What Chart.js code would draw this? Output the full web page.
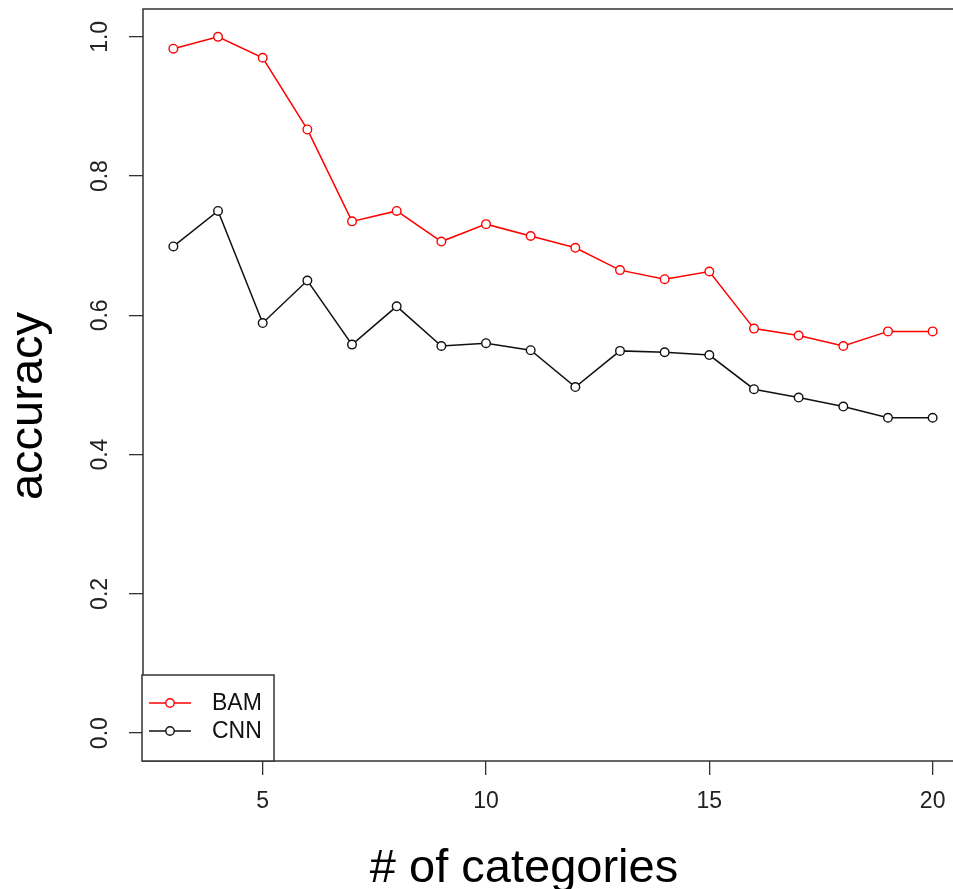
<!DOCTYPE html>
<html lang="en">
<head>
    <meta charset="UTF-8">
    <title>accuracy vs # of categories</title>
    <script src="https://cdn.jsdelivr.net/npm/chart.js"></script>
    <style>
        html, body { margin: 0; padding: 0; background: #fff; overflow: hidden; }
        #wrap { width: 980px; height: 889px; }
    </style>
</head>
<body>
    <div id="wrap">
        <canvas id="accChart" width="980" height="889"></canvas>
    </div>

    <script>
        // data
        var categories = [3, 4, 5, 6, 7, 8, 9, 10, 11, 12, 13, 14, 15, 16, 17, 18, 19, 20];
        var bamValues = [0.983, 1.0, 0.970, 0.867, 0.735, 0.750, 0.706, 0.731, 0.714, 0.697,
                         0.665, 0.652, 0.663, 0.581, 0.571, 0.556, 0.577, 0.577];
        var cnnValues = [0.699, 0.750, 0.589, 0.650, 0.558, 0.613, 0.556, 0.560, 0.550, 0.497,
                         0.549, 0.547, 0.543, 0.494, 0.482, 0.469, 0.453, 0.453];
        var xTicks = [5, 10, 15, 20];
        var yTicks = [0.0, 0.2, 0.4, 0.6, 0.8, 1.0];
        var seriesNames = ["BAM", "CNN"];
        var xTitle = "# of categories";
        var yTitle = "accuracy";

        var FONT = "'Liberation Sans', Arial, sans-serif";
        var BOX = "#333";

        function toPoints(values) {
            return categories.map(function (c, i) { return { x: c, y: values[i] }; });
        }

        function series(label, values, color) {
            return {
                label: label,
                data: toPoints(values),
                borderColor: color,
                borderWidth: 1.5,
                pointRadius: 4.3,
                pointHoverRadius: 4.3,
                pointBorderWidth: 1.4,
                pointBorderColor: color,
                pointBackgroundColor: "#fff",
                tension: 0
            };
        }

        // R style box, axis titles and legend
        var rStyle = {
            id: "rStyle",
            afterDraw: function (chart) {
                var ctx = chart.ctx;
                var a = chart.chartArea;
                ctx.save();

                ctx.strokeStyle = BOX;
                ctx.lineWidth = 1.5;
                ctx.strokeRect(a.left, a.top, a.right - a.left, a.bottom - a.top);

                ctx.fillStyle = "#000";
                ctx.font = "47px " + FONT;
                ctx.textAlign = "center";
                ctx.textBaseline = "alphabetic";
                ctx.fillText(xTitle, 524, 882);

                ctx.save();
                ctx.translate(42, 406);
                ctx.rotate(-Math.PI / 2);
                ctx.fillText(yTitle, 0, 0);
                ctx.restore();

                // legend box in the lower left corner
                var lx = a.left - 1, ly = 675, lw = 132, lh = a.bottom - ly;
                ctx.fillStyle = "#fff";
                ctx.fillRect(lx, ly, lw, lh);
                ctx.strokeStyle = BOX;
                ctx.lineWidth = 1.5;
                ctx.strokeRect(lx, ly, lw, lh);

                ctx.font = "23px " + FONT;
                ctx.textAlign = "left";
                ctx.textBaseline = "middle";
                chart.data.datasets.forEach(function (ds, i) {
                    var yy = 703 + i * 28;
                    ctx.strokeStyle = ds.borderColor;
                    ctx.lineWidth = 1.4;
                    ctx.beginPath();
                    ctx.moveTo(149, yy);
                    ctx.lineTo(191, yy);
                    ctx.stroke();
                    ctx.fillStyle = "#fff";
                    ctx.beginPath();
                    ctx.arc(170, yy, 4.2, 0, Math.PI * 2);
                    ctx.fill();
                    ctx.stroke();
                    ctx.fillStyle = "#111";
                    ctx.fillText(ds.label, 212, yy + 1);
                });
                ctx.restore();
            }
        };

        var ctx = document.getElementById("accChart").getContext("2d");
        var accChart = new Chart(ctx, {
            type: "line",
            data: {
                datasets: [
                    series(seriesNames[0], bamValues, "#ff0000"),
                    series(seriesNames[1], cnnValues, "#111111")
                ]
            },
            options: {
                responsive: false,
                animation: false,
                events: [],
                layout: { padding: { left: 0, top: 9, right: 17, bottom: 0 } },
                plugins: {
                    legend: { display: false },
                    tooltip: { enabled: false }
                },
                scales: {
                    x: {
                        type: "linear",
                        min: 2.32,
                        max: 20.68,
                        afterBuildTicks: function (scale) {
                            scale.ticks = xTicks.map(function (v) { return { value: v }; });
                        },
                        afterFit: function (scale) {
                            scale.height = 128;
                            scale.paddingLeft = 0;
                            scale.paddingRight = 0;
                        },
                        border: { display: false },
                        grid: {
                            drawOnChartArea: false,
                            drawTicks: true,
                            tickLength: 14,
                            color: BOX,
                            lineWidth: 1.3
                        },
                        ticks: {
                            color: "#222",
                            font: { family: FONT, size: 23 },
                            padding: 13,
                            maxRotation: 0,
                            callback: function (v) { return String(v); }
                        }
                    },
                    y: {
                        type: "linear",
                        min: -0.04,
                        max: 1.04,
                        afterBuildTicks: function (scale) {
                            scale.ticks = yTicks.map(function (v) { return { value: v }; });
                        },
                        afterFit: function (scale) {
                            scale.width = 143;
                            scale.paddingTop = 0;
                            scale.paddingBottom = 0;
                        },
                        border: { display: false },
                        grid: {
                            drawOnChartArea: false,
                            drawTicks: true,
                            tickLength: 14,
                            color: BOX,
                            lineWidth: 1.3
                        },
                        ticks: {
                            color: "#222",
                            font: { family: FONT, size: 23 },
                            minRotation: 90,
                            maxRotation: 90,
                            crossAlign: "center",
                            padding: 12,
                            callback: function (v) { return Number(v).toFixed(1); }
                        }
                    }
                }
            },
            plugins: [rStyle]
        });
    </script>
</body>
</html>
